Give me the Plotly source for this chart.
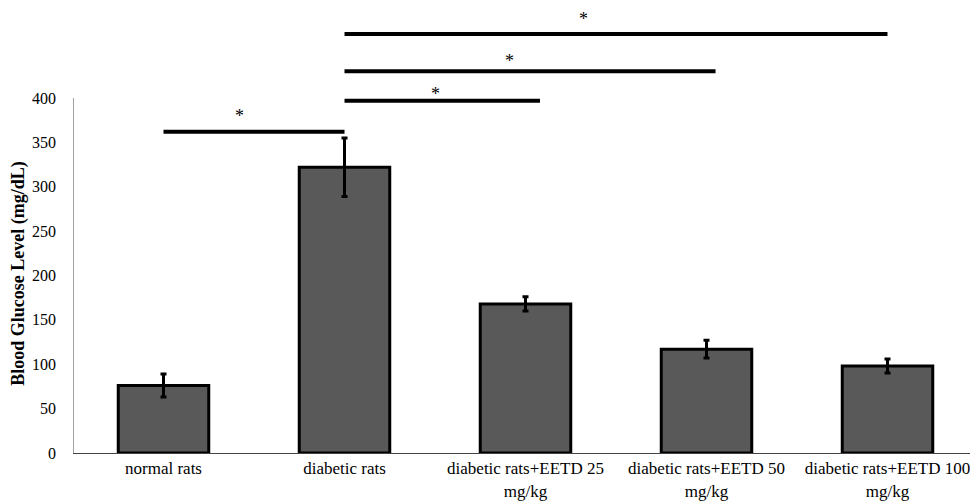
import plotly.graph_objects as go

categories = ["normal rats", "diabetic rats", "diabetic rats+EETD 25<br>mg/kg",
              "diabetic rats+EETD 50<br>mg/kg", "diabetic rats+EETD 100<br>mg/kg"]
glucose = [76, 322, 168, 117, 98]
errors = [13, 33, 8, 10, 8]

# significance brackets: (start index, end index, height, star height)
sig_start = [0.0, 1.0, 1.0, 1.0]
sig_end = [1.0, 2.08, 3.05, 4.0]
sig_y = [362, 397, 430, 472]
sig_star_y = [380, 405, 442, 489]
sig_star_x = [0.42, 1.5, 1.91, 2.32]

y_ticks = [0, 50, 100, 150, 200, 250, 300, 350, 400]

serif = "Liberation Serif, Times New Roman, serif"

fig = go.Figure()
fig.add_trace(go.Bar(
    x=list(range(len(categories))), y=glucose,
    marker=dict(color="#595959", line=dict(color="black", width=3)),
    error_y=dict(type="data", array=errors, color="black", thickness=3, width=3),
    showlegend=False,
))

shapes = []
for s, e, y in zip(sig_start, sig_end, sig_y):
    shapes.append(dict(type="line", xref="x", yref="y", x0=s, x1=e, y0=y, y1=y,
                       line=dict(color="black", width=4), layer="above"))
# y axis line only up to 400
shapes.append(dict(type="line", xref="x", yref="y", x0=-0.5, x1=-0.5, y0=0, y1=400,
                   line=dict(color="#444", width=1)))
fig.update_layout(shapes=shapes)

for x, y in zip(sig_star_x, sig_star_y):
    fig.add_annotation(x=x, y=y, xref="x", yref="y", text="*", showarrow=False,
                       font=dict(family=serif, size=18, color="black"))

fig.add_annotation(x=0, xref="paper", xanchor="center", yanchor="middle", xshift=-54,
                   y=202, yref="y",
                   text="<b>Blood Glucose Level (mg/dL)</b>", textangle=-90,
                   showarrow=False, font=dict(family=serif, size=18, color="black"))

fig.update_layout(
    width=978, height=504,
    margin=dict(l=65, r=8, t=0, b=59),
    plot_bgcolor="white", paper_bgcolor="white",
    bargap=0.5,
    font=dict(family=serif, size=15, color="black"),
    xaxis=dict(tickmode="array", tickvals=list(range(len(categories))), ticktext=categories,
               range=[-0.5, 4.5], showline=True, linecolor="#444", linewidth=1,
               showgrid=False, zeroline=False, ticks="", automargin=False,
               tickfont=dict(family=serif, size=17, color="black")),
    yaxis=dict(range=[0, 501.4], tickvals=y_ticks, showgrid=False, zeroline=False,
               showline=False, ticks="", ticklabelstandoff=16, automargin=False,
               tickfont=dict(family=serif, size=16, color="black")),
)

fig.write_html("out.html")
